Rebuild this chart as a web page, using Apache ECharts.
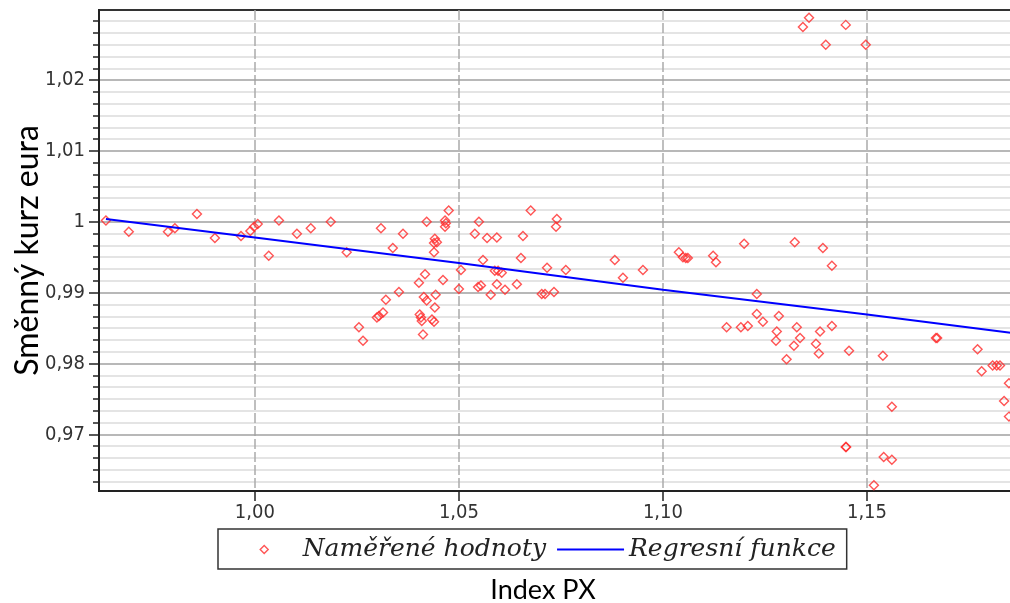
<!DOCTYPE html>
<html><head><meta charset="utf-8">
<script src="https://cdn.jsdelivr.net/npm/echarts@6/dist/echarts.min.js"></script>
<style>html,body{margin:0;padding:0;overflow:hidden;background:#fff;width:1010px;height:603px}#c{width:1100px;height:603px}</style>
</head><body><div id="c"></div><script>
// Measured values (x = Index PX, y = exchange rate)
const pxIndex = [0.9635,0.9691,0.9787,0.9804,0.9858,0.9902,0.9966,0.9989,0.9998,1.0007,1.0034,1.0059,1.0103,1.0137,1.0186,1.0225,
1.0309,1.0363,1.0338,1.0421,1.0475,1.0466,1.0468,1.0466,1.0441,1.0446,1.0439,1.0439,1.0417,1.0402,1.0461,1.0505,1.0500,1.0353,1.0321,1.0414,1.0421,1.0443,1.0441,1.0314,1.0304,1.0299,1.0404,1.0407,1.0409,1.0434,1.0439,1.0255,1.0265,1.0412,
1.0676,1.0740,1.0738,1.0549,1.0539,1.0569,1.0593,1.0657,1.0559,1.0652,1.0716,1.0762,1.0588,1.0596,1.0605,1.0593,1.0642,1.0547,1.0554,1.0578,1.0613,1.0703,1.0711,1.0733,
1.0882,1.0902,1.0951,1.1039,1.1049,1.1056,1.1061,1.1123,1.1130,1.1199,1.1230,1.1230,1.1245,1.1156,1.1191,1.1208,1.1284,1.1279,1.1277,1.1303,1.1321,1.1328,1.1336,1.1375,1.1382,1.1385,1.1414,1.1456,1.1323,1.1392,1.1414,
1.1358,1.1343,1.1448,1.1399,1.1497,
1.1669,1.1672,1.1771,1.1539,1.1781,1.1808,1.1818,1.1826,1.1848,1.1836,1.1848,1.1561,1.1448,1.1449,1.1541,1.1561,1.1517];
const eurRate = [1.0002,0.9986,0.9986,0.9991,1.0011,0.9977,0.9980,0.9987,0.9993,0.9997,0.9952,1.0002,0.9983,0.9991,1.0000,0.9957,
0.9991,0.9983,0.9963,1.0000,1.0016,1.0002,0.9998,0.9993,0.9976,0.9971,0.9970,0.9957,0.9926,0.9914,0.9918,0.9932,0.9905,0.9901,0.9890,0.9894,0.9889,0.9897,0.9879,0.9872,0.9867,0.9865,0.9869,0.9865,0.9860,0.9862,0.9859,0.9851,0.9832,0.9841,
1.0016,1.0004,0.9993,1.0000,0.9983,0.9977,0.9978,0.9980,0.9946,0.9949,0.9935,0.9932,0.9931,0.9931,0.9928,0.9912,0.9912,0.9908,0.9910,0.9897,0.9904,0.9898,0.9898,0.9901,
0.9946,0.9921,0.9932,0.9957,0.9950,0.9949,0.9949,0.9952,0.9943,0.9969,0.9898,0.9870,0.9859,0.9851,0.9851,0.9853,0.9867,0.9845,0.9832,0.9806,0.9825,0.9851,0.9836,0.9828,0.9814,0.9845,0.9853,0.9818,0.9971,0.9963,0.9938,
1.0288,1.0275,1.0278,1.0250,1.0250,
0.9836,0.9836,0.9820,0.9811,0.9789,0.9797,0.9797,0.9797,0.9772,0.9747,0.9725,0.9739,0.9682,0.9682,0.9668,0.9664,0.9628];
// Regression curve
const regX = [0.9635, 1.00, 1.05, 1.10, 1.15, 1.19];
const regY = [1.0004, 0.9978, 0.9942, 0.9904, 0.9869, 0.9840];
// Tick labels
const xTickValues = [1.00, 1.05, 1.10, 1.15];
const yTickValues = [0.97, 0.98, 0.99, 1.00, 1.01, 1.02];
const seriesNames = ['Naměřené hodnoty', 'Regresní funkce'];
const xName = 'Index PX';
const yName = 'Směnný kurz eura';

const xMin = 0.9618, xMax = 1.20, yMin = 0.962, yMax = 1.0299;
const yMinor = [];
for (let k = 0; k <= 42; k++) {
  const v = +(0.96 + k * 0.01 / 6).toFixed(6);
  if (k % 6 !== 0 && v >= yMin && v <= yMax) yMinor.push(v);
}

const scatterData = pxIndex.map((x, i) => [x, eurRate[i]]);
const regData = regX.map((x, i) => [x, regY[i]]);

const tickFont = 'DejaVu Sans Condensed';
// legend icon: small diamond centred in a wide (67x10) invisible frame
const diamondIcon = 'path://M0,0M67,10M33.5,1L37.5,5L33.5,9L29.5,5Z';
const chart = echarts.init(document.getElementById('c'), null, {renderer: 'canvas'});
chart.setOption({
  animation: false,
  backgroundColor: '#fff',
  grid: {left: 99, top: 10, right: 29, bottom: 112, show: true, borderColor: '#333', borderWidth: 2,
    containLabel: false, outerBoundsMode: 'none'},
  legend: {
    left: 218, top: 529, orient: 'horizontal',
    padding: [8, 11, 7, 12], itemWidth: 67, itemHeight: 10, itemGap: 10,
    borderColor: '#333', borderWidth: 1.5,
    textStyle: {fontFamily: 'DejaVu Serif', fontStyle: 'italic', fontSize: 25, color: '#222'},
    data: [
      {name: seriesNames[0], icon: diamondIcon, itemStyle: {color: 'rgba(255,255,255,0)', borderColor: '#ff2a2a', borderWidth: 1.4}},
      {name: seriesNames[1], itemStyle: {color: 'rgba(0,0,0,0)', borderWidth: 0, opacity: 0}}
    ]
  },
  xAxis: {
    type: 'value', min: xMin, max: xMax,
    name: xName, nameLocation: 'middle', nameGap: 86, nameMoveOverlap: false,
    nameTextStyle: {fontFamily: 'Lato', fontSize: 27, color: '#000', padding: [0, 84, 0, 0]},
    axisLine: {lineStyle: {color: '#222', width: 2}},
    axisTick: {customValues: xTickValues, length: 10, lineStyle: {color: '#222', width: 1.5}},
    axisLabel: {customValues: xTickValues, margin: 12, fontFamily: tickFont, fontSize: 20, color: '#333',
      formatter: v => v.toFixed(2).replace('.', ',')},
    splitLine: {show: true, lineStyle: {color: '#aaa', width: 1.5, type: [10, 3]}}
  },
  yAxis: [{
    type: 'value', position: 'left', min: yMin, max: yMax, z: 0,
    axisLine: {show: false},
    axisTick: {customValues: yMinor, length: 6, lineStyle: {color: '#222', width: 1.5}},
    axisLabel: {show: false},
    splitLine: {show: true, lineStyle: {color: '#e4e4e4', width: 2}}
  }, {
    type: 'value', position: 'left', min: yMin, max: yMax, z: 1,
    name: yName, nameLocation: 'middle', nameGap: 55, nameRotate: 90, nameMoveOverlap: false,
    nameTextStyle: {fontFamily: 'Lato', fontSize: 32, color: '#000'},
    axisLine: {show: true, lineStyle: {color: '#222', width: 2}},
    axisTick: {customValues: yTickValues, length: 10, lineStyle: {color: '#222', width: 1.5}},
    axisLabel: {customValues: yTickValues, margin: 14, fontFamily: tickFont, fontSize: 20, color: '#333',
      formatter: v => v.toFixed(2).replace(/0+$/, '').replace(/\.$/, '').replace('.', ',')},
    splitLine: {show: true, lineStyle: {color: '#a0a0a0', width: 1.5}}
  }],
  series: [{
    name: seriesNames[0], type: 'scatter', yAxisIndex: 1, data: scatterData,
    symbol: 'diamond', symbolSize: 9, z: 3,
    itemStyle: {color: 'rgba(255,255,255,0)', borderColor: '#ff2a2a', borderWidth: 1.4}
  }, {
    name: seriesNames[1], type: 'line', yAxisIndex: 1, data: regData,
    symbol: 'none', smooth: false, z: 4,
    lineStyle: {color: '#0000ff', width: 2},
    itemStyle: {color: '#0000ff'}
  }]
});
</script></body></html>
